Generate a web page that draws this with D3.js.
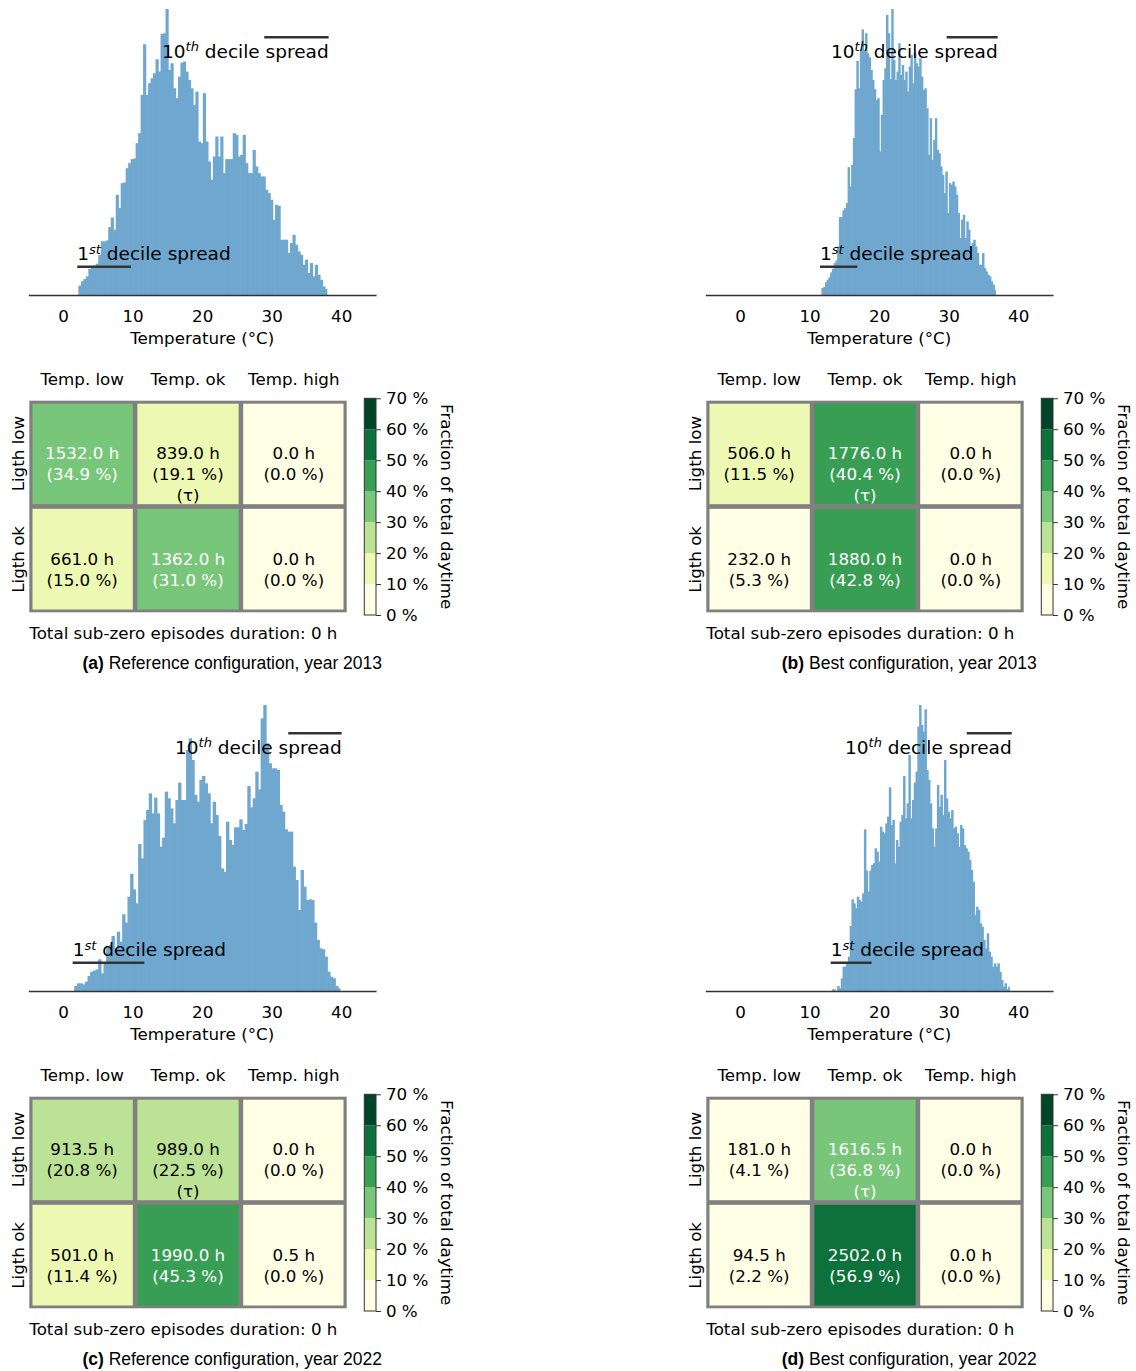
<!DOCTYPE html>
<html>
<head>
<meta charset="utf-8">
<script src="https://cdn.jsdelivr.net/npm/d3@7"></script>
<style>
  body { margin: 0; background: #fff; }
  text { font-family: "DejaVu Sans", sans-serif; }
</style>
</head>
<body>
<svg id="fig" width="1136" height="1371"></svg>
<script>
// ---- Temperature histograms: 100 equal-width bins between the bin range ends ----
const countsA = [
  2.8, 4.1, 4.8, 5.6, 7.8, 8.3, 8.8, 9.4, 12.0, 16.1,
  16.1, 16.4, 20.4, 23.3, 19.6, 30.1, 26.1, 33.6, 33.8, 38.1,
  39.6, 40.8, 41.0, 45.6, 48.6, 60.1, 75.3, 60.1, 63.6, 65.1,
  66.6, 70.8, 67.1, 78.4, 78.6, 85.9, 67.6, 69.6, 62.1, 59.1,
  65.6, 69.8, 70.1, 67.1, 64.6, 62.1, 57.1, 61.1, 46.1, 45.6,
  60.6, 46.1, 40.1, 34.6, 41.6, 47.6, 41.6, 47.6, 36.6, 40.8,
  40.8, 40.8, 48.6, 48.1, 41.6, 42.1, 48.1, 39.6, 36.6, 36.6,
  43.6, 38.6, 36.6, 35.6, 35.6, 31.6, 30.6, 28.6, 22.6, 27.1,
  26.8, 16.6, 16.6, 16.6, 12.6, 15.6, 18.1, 15.1, 13.1, 12.1,
  9.1, 10.6, 6.6, 9.6, 5.6, 9.1, 6.1, 4.6, 2.6, 1.8
];
const countsB = [
  2.1, 2.4, 3.8, 4.6, 5.3, 6.8, 7.8, 9.6, 10.4, 14.6,
  23.4, 23.4, 25.4, 26.1, 27.6, 38.4, 32.6, 39.1, 47.1, 61.8,
  70.3, 62.1, 73.8, 79.8, 73.6, 78.6, 72.6, 71.4, 67.6, 64.6,
  61.8, 58.6, 59.1, 43.1, 54.1, 64.6, 68.1, 84.1, 78.6, 64.8,
  85.9, 70.6, 64.6, 67.1, 75.6, 66.1, 69.1, 64.6, 67.1, 61.1,
  68.6, 72.1, 63.6, 72.6, 69.6, 68.6, 71.1, 65.6, 61.6, 62.1,
  56.1, 42.1, 53.1, 40.6, 46.6, 53.1, 43.6, 42.6, 38.6, 36.1,
  30.6, 37.1, 24.6, 33.6, 33.1, 34.1, 32.6, 30.1, 24.6, 17.1,
  22.6, 24.1, 17.1, 22.1, 19.6, 14.6, 15.6, 16.6, 14.6, 12.6,
  9.1, 9.1, 12.6, 8.1, 7.1, 6.1, 5.6, 4.1, 3.1, 1.6
];
const countsC = [
  1.5, 2.3, 2.3, 2.0, 2.8, 4.5, 5.8, 6.1, 6.5, 9.5,
  5.3, 8.3, 13.3, 13.8, 16.5, 12.8, 17.8, 14.8, 23.0, 20.5,
  28.3, 35.1, 30.5, 26.3, 44.1, 39.8, 51.3, 54.3, 59.3, 53.3,
  58.0, 53.3, 43.3, 46.0, 59.8, 57.8, 54.8, 50.3, 57.3, 62.5,
  57.3, 57.3, 72.3, 75.8, 69.3, 58.8, 56.8, 63.3, 64.5, 62.3,
  59.3, 50.3, 56.8, 52.8, 46.5, 36.8, 35.8, 50.8, 45.3, 43.8,
  49.1, 49.1, 51.5, 48.3, 50.1, 61.5, 55.1, 57.8, 65.8, 60.5,
  81.8, 85.8, 74.3, 68.3, 66.8, 66.8, 66.3, 55.8, 53.8, 48.5,
  47.8, 47.8, 37.3, 33.3, 24.3, 36.3, 31.3, 27.3, 27.5, 27.3,
  20.5, 15.3, 12.8, 12.5, 10.3, 5.8, 4.3, 3.8, 1.5, 0.8
];
const countsD = [
  0.5, 0.5, 0.0, 1.5, 0.8, 3.8, 7.3, 7.3, 8.3, 10.3,
  19.5, 27.5, 26.3, 24.8, 28.3, 27.3, 26.8, 29.3, 48.5, 36.1,
  29.8, 36.1, 37.8, 38.3, 42.8, 41.8, 38.8, 49.3, 47.8, 47.3,
  50.3, 52.3, 61.1, 49.8, 51.3, 38.3, 45.3, 43.3, 50.8, 52.8,
  64.5, 51.8, 56.3, 70.8, 51.8, 57.3, 62.5, 65.8, 79.3, 85.8,
  79.8, 77.8, 84.5, 66.3, 63.3, 56.3, 48.8, 43.3, 48.8, 61.8,
  55.3, 58.8, 52.8, 69.3, 57.8, 53.8, 51.8, 54.3, 48.8, 49.3,
  47.3, 43.3, 49.8, 48.8, 43.8, 42.8, 41.8, 39.3, 36.3, 32.8,
  22.8, 25.3, 24.3, 20.3, 19.3, 15.3, 12.8, 17.3, 11.8, 10.3,
  7.3, 8.3, 7.3, 8.3, 5.8, 3.3, 1.3, 2.3, 0.5, 1.3
];
const binRangeA = [2.2, 38.0];
const binRangeB = [11.7, 36.8];
const binRangeC = [1.6, 39.9];
const binRangeD = [13.2, 38.8];

// Decile spread markers (°C)
const decile1A = [2.04, 9.76],   decile10A = [28.93, 38.19];
const decile1B = [11.49, 16.85], decile10B = [29.71, 37.04];
const decile1C = [1.38, 11.68],  decile10C = [32.38, 40.06];
const decile1D = [13.03, 18.92], decile10D = [32.59, 39.06];

const xTicks = [0, 10, 20, 30, 40];

// ---- Light / temperature condition tables ----
const colLabels = ["Temp. low", "Temp. ok", "Temp. high"];
const rowLabels = ["Ligth low", "Ligth ok"];
const hoursA = [[1532.0, 839.0, 0.0], [661.0, 1362.0, 0.0]];
const pctA   = [[34.9, 19.1, 0.0], [15.0, 31.0, 0.0]];
const hoursB = [[506.0, 1776.0, 0.0], [232.0, 1880.0, 0.0]];
const pctB   = [[11.5, 40.4, 0.0], [5.3, 42.8, 0.0]];
const hoursC = [[913.5, 989.0, 0.0], [501.0, 1990.0, 0.5]];
const pctC   = [[20.8, 22.5, 0.0], [11.4, 45.3, 0.0]];
const hoursD = [[181.0, 1616.5, 0.0], [94.5, 2502.0, 0.0]];
const pctD   = [[4.1, 36.8, 0.0], [2.2, 56.9, 0.0]];
const targetCell = [0, 1]; // row, column marked (τ)
const subZeroHours = [0, 0, 0, 0];
const cbTicks = [0, 10, 20, 30, 40, 50, 60, 70];

const captionTags = ["(a)", "(b)", "(c)", "(d)"];
const captionTexts = [
  "Reference configuration, year 2013",
  "Best configuration, year 2013",
  "Reference configuration, year 2022",
  "Best configuration, year 2022"
];

const panels = [
  { counts: countsA, range: binRangeA, d1: decile1A, d10: decile10A, hours: hoursA, pct: pctA, dx: 0,   dy: 0 },
  { counts: countsB, range: binRangeB, d1: decile1B, d10: decile10B, hours: hoursB, pct: pctB, dx: 677, dy: 0 },
  { counts: countsC, range: binRangeC, d1: decile1C, d10: decile10C, hours: hoursC, pct: pctC, dx: 0,   dy: 696 },
  { counts: countsD, range: binRangeD, d1: decile1D, d10: decile10D, hours: hoursD, pct: pctD, dx: 677, dy: 696 }
];

// ---- Colours ----
const BAR = "#6fa7cf";
const INK = "#333333";
const GRID = "#808080";
const ylgnStops = ["#ffffe5", "#f7fcb9", "#d9f0a3", "#addd8e", "#78c679", "#41ab5d", "#238443", "#006837", "#004529"];
const ylgn = d3.scaleLinear().domain(d3.range(9).map(i => i / 8)).range(ylgnStops).interpolate(d3.interpolateRgb);
const levelColors = d3.range(7).map(i => ylgn(i / 6));
const colorOf = d3.scaleThreshold().domain([10, 20, 30, 40, 50, 60]).range(levelColors);

const FS = 16.7;      // axis / table text
const FS_ANN = 18.5;  // decile annotations
const FS_SUP = 13;    // ordinal suffix
const svg = d3.select("#fig");
svg.append("rect").attr("width", 1136).attr("height", 1371).attr("fill", "#fff");

const fmt1 = d3.format(".1f");

panels.forEach((p, pi) => {
  const g = svg.append("g").attr("transform", `translate(${p.dx},${p.dy})`);

  // histogram
  const x = d3.scaleLinear().domain([-5, 45]).range([28.3, 376]);
  const y = d3.scaleLinear().domain([0, d3.max(p.counts)]).range([295, 9]);
  const bw = (p.range[1] - p.range[0]) / p.counts.length;
  const edge = i => x(p.range[0] + i * bw);
  const last = p.counts.length - 1;

  // bars overlap by a fraction of a pixel so neighbouring bins read as one solid area
  g.append("g").selectAll("rect").data(p.counts).join("rect")
    .attr("x", (d, i) => edge(i))
    .attr("width", (d, i) => edge(i + 1) - edge(i) + (i < last ? 0.7 : 0))
    .attr("y", d => y(d))
    .attr("height", d => y(0) - y(d))
    .attr("fill", BAR);

  const ax = g.append("g").attr("transform", "translate(0,295)")
    .call(d3.axisBottom(x).tickValues(xTicks).tickSize(0).tickSizeOuter(0).tickPadding(15));
  ax.attr("font-size", null).attr("font-family", null);
  ax.select(".domain").attr("stroke", INK).attr("stroke-width", 1.3);
  ax.selectAll("text").attr("font-size", FS).attr("fill", "#000");

  g.append("text").attr("x", 202.2).attr("y", 344).attr("text-anchor", "middle")
    .attr("font-size", FS).text("Temperature (°C)");

  // 10th decile marker
  g.append("line").attr("x1", x(p.d10[0])).attr("x2", x(p.d10[1]))
    .attr("y1", 37.3).attr("y2", 37.3).attr("stroke", INK).attr("stroke-width", 2.4);
  const t10 = g.append("text").attr("x", x(p.d10[1])).attr("y", 57.5)
    .attr("text-anchor", "end").attr("font-size", FS_ANN);
  t10.append("tspan").text("10");
  t10.append("tspan").attr("font-size", FS_SUP).attr("font-style", "italic").attr("dy", -6.5).text("th");
  t10.append("tspan").attr("dy", 6.5).text(" decile spread");

  // 1st decile marker
  g.append("line").attr("x1", x(p.d1[0])).attr("x2", x(p.d1[1]))
    .attr("y1", 266.7).attr("y2", 266.7).attr("stroke", INK).attr("stroke-width", 2.4);
  const t1 = g.append("text").attr("x", x(p.d1[0])).attr("y", 260)
    .attr("text-anchor", "start").attr("font-size", FS_ANN);
  t1.append("tspan").text("1");
  t1.append("tspan").attr("font-size", FS_SUP).attr("font-style", "italic").attr("dy", -6.5).text("st");
  t1.append("tspan").attr("dy", 6.5).text(" decile spread");

  // condition table
  const cx = d3.scaleBand().domain([0, 1, 2]).range([29.3, 346.7]);
  const cy = d3.scaleBand().domain([0, 1]).range([400.7, 612.3]);
  g.append("rect").attr("x", 29.3).attr("y", 400.7)
    .attr("width", 317.4).attr("height", 211.6).attr("fill", GRID);

  const cells = [];
  p.hours.forEach((row, r) => row.forEach((h, c) => cells.push({ r, c, h, pct: p.pct[r][c] })));

  const cg = g.append("g").selectAll("g").data(cells).join("g");
  cg.append("rect")
    .attr("x", d => cx(d.c) + (d.c === 0 ? 3.2 : 2.3))
    .attr("y", d => cy(d.r) + (d.r === 0 ? 3.0 : 2.3))
    .attr("width", d => cx.bandwidth() - (d.c === 0 ? 3.2 : 2.3) - (d.c === 2 ? 3.2 : 2.3))
    .attr("height", d => cy.bandwidth() - (d.r === 0 ? 3.0 : 2.3) - (d.r === 1 ? 2.8 : 2.3))
    .attr("fill", d => colorOf(d.pct));

  const lines = d => {
    const out = [fmt1(d.h) + " h", "(" + fmt1(d.pct) + " %)"];
    if (d.r === targetCell[0] && d.c === targetCell[1]) out.push("(τ)");
    return out;
  };
  cg.append("text")
    .attr("text-anchor", "middle").attr("font-size", FS)
    .attr("fill", d => d.pct >= 30 ? "#ffffff" : "#000000")
    .each(function (d) {
      const t = d3.select(this);
      lines(d).forEach((s, k) => {
        t.append("tspan")
          .attr("x", cx(d.c) + cx.bandwidth() / 2)
          .attr("y", cy(d.r) + 58 + k * 21.3)
          .text(s);
      });
    });

  g.append("g").selectAll("text").data(colLabels).join("text")
    .attr("x", (d, i) => cx(i) + cx.bandwidth() / 2).attr("y", 385.3)
    .attr("text-anchor", "middle").attr("font-size", FS).text(d => d);

  g.append("g").selectAll("text").data(rowLabels).join("text")
    .attr("transform", (d, i) => `translate(24,${cy(i) + cy.bandwidth() / 2}) rotate(-90)`)
    .attr("text-anchor", "middle").attr("font-size", FS).text(d => d);

  // colour bar
  const cb = d3.scaleLinear().domain([0, 70]).range([615, 398.3]);
  const cbx = 364.3, cbw = 11.7;
  g.append("g").selectAll("rect").data(d3.range(7)).join("rect")
    .attr("x", cbx).attr("width", cbw)
    .attr("y", i => cb(10 * (i + 1))).attr("height", i => cb(10 * i) - cb(10 * (i + 1)))
    .attr("fill", i => levelColors[i]);
  g.append("rect").attr("x", cbx).attr("y", cb(70)).attr("width", cbw).attr("height", cb(0) - cb(70))
    .attr("fill", "none").attr("stroke", INK).attr("stroke-width", 1);
  const cax = g.append("g").attr("transform", `translate(${cbx + cbw},0)`)
    .call(d3.axisRight(cb).tickValues(cbTicks).tickFormat(d => d + " %").tickSize(4.9).tickPadding(5));
  cax.attr("font-size", null).attr("font-family", null);
  cax.select(".domain").remove();
  cax.selectAll("line").attr("stroke", INK).attr("stroke-width", 1);
  cax.selectAll("text").attr("font-size", FS).attr("fill", "#000");

  g.append("text").attr("transform", "translate(441,506.7) rotate(90)")
    .attr("text-anchor", "middle").attr("font-size", FS).text("Fraction of total daytime");

  g.append("text").attr("x", 29.3).attr("y", 639.3).attr("font-size", FS)
    .text("Total sub-zero episodes duration: " + subZeroHours[pi] + " h");

  const cap = g.append("text").attr("x", 232.2).attr("y", 669.3).attr("text-anchor", "middle")
    .attr("font-size", 17.5).style("font-family", "'Liberation Sans', Arial, sans-serif");
  cap.append("tspan").attr("font-weight", "bold").text(captionTags[pi]);
  cap.append("tspan").text(" " + captionTexts[pi]);
});
</script>
</body>
</html>
